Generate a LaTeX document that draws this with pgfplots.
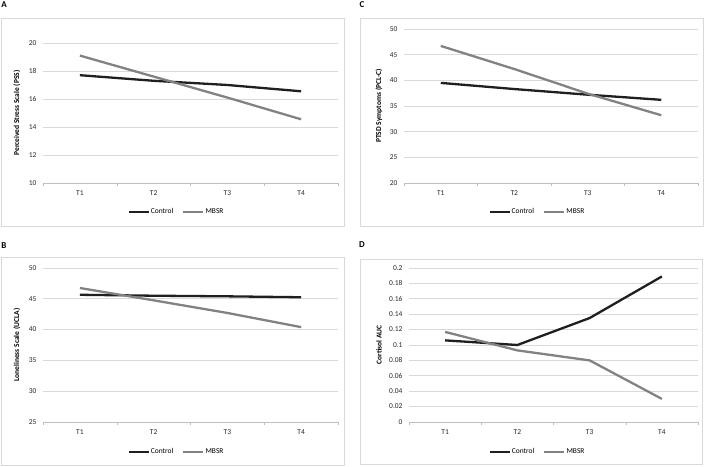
\documentclass[border=0pt]{standalone}
\usepackage{fontspec}
\setmainfont{Carlito}
\usepackage{pgfplots}
\pgfplotsset{compat=1.18}
\definecolor{ctrl}{HTML}{1F1F1F}
\definecolor{mbsr}{HTML}{828282}
\definecolor{gridc}{HTML}{D9D9D9}
\definecolor{axisc}{HTML}{BFBFBF}
\pgfplotsset{
  panel/.style={
    scale only axis,
    xmin=-0.5, xmax=3.5,
    xtick={0,1,2,3}, xticklabels={T1,T2,T3,T4},
    major tick length=0pt,
    extra x ticks={-0.5,0.5,1.5,2.5,3.5}, extra x tick labels={},
    extra x tick style={major tick length=3bp, tick align=outside, grid=none, tick style={axisc}},
    axis x line*=bottom, axis y line*=left,
    x axis line style={draw=axisc, line width=0.6bp, -},
    y axis line style={draw=none},
    ymajorgrids, grid style={gridc, line width=0.6bp},
    /pgf/number format/assume math mode=true,
    tick label style={font=\fontsize{7.5}{9}\selectfont, text=black!85},
    yticklabel shift=3bp, xticklabel shift=4bp,
    legend columns=2,
    legend style={draw=none, fill=none, anchor=center,
      font=\fontsize{7.5}{9}\selectfont,
      nodes={inner sep=1bp},
      /tikz/every even column/.append style={column sep=8bp}},
    legend image code/.code={\draw[#1] (0bp,0bp) -- (20bp,0bp);},
    clip=false,
  },
  labelx/.style={every axis y label/.style={at={([xshift=#1]axis description cs:0,0.5)},
      rotate=90, anchor=center, font=\bfseries\fontsize{7.5}{9}\selectfont}},
  ctrlline/.style={ctrl, line width=2.3bp, no markers},
  mbsrline/.style={mbsr, line width=2.3bp, no markers},
}
\begin{document}
\begin{tikzpicture}[x=1bp,y=1bp]
\useasboundingbox (0,0) rectangle (709,467);
% panel frames
\draw[gridc, line width=0.8bp] (1,241) rectangle (344,449);
\draw[gridc, line width=0.8bp] (360,241) rectangle (703,449);
\draw[gridc, line width=0.8bp] (1,2) rectangle (344,210);
\draw[gridc, line width=0.8bp] (360,3) rectangle (702,208);
\node[font=\bfseries\fontsize{9}{10}\selectfont] at (4,462) {A};
\node[font=\bfseries\fontsize{9}{10}\selectfont] at (362,462) {C};
\node[font=\bfseries\fontsize{9}{10}\selectfont] at (4,221) {B};
\node[font=\bfseries\fontsize{9}{10}\selectfont] at (362,222) {D};

% A
\begin{axis}[panel, at={(43bp,284bp)}, anchor=south west, width=295bp, height=140bp,
  ymin=10, ymax=20, ytick={10,12,...,20},
  labelx=-26bp, ylabel={Perceived Stress Scale (PSS)},
  legend style={at={(0.451,-0.207)}}]
\addplot[ctrlline] coordinates {(0,17.7) (1,17.3) (2,17.0) (3,16.55)};
\addplot[mbsrline] coordinates {(0,19.1) (1,17.6) (2,16.1) (3,14.55)};
\legend{Control,MBSR}
\end{axis}

% C
\begin{axis}[panel, at={(404bp,284bp)}, anchor=south west, width=294bp, height=154bp,
  ymin=20, ymax=50, ytick={20,25,...,50},
  labelx=-25bp, ylabel={PTSD Symptoms (PCL-C)},
  legend style={at={(0.452,-0.188)}}]
\addplot[ctrlline] coordinates {(0,39.5) (1,38.3) (2,37.2) (3,36.2)};
\addplot[mbsrline] coordinates {(0,46.7) (1,42.2) (2,37.4) (3,33.2)};
\legend{Control,MBSR}
\end{axis}

% B
\begin{axis}[panel, at={(43bp,45bp)}, anchor=south west, width=295bp, height=154bp,
  ymin=25, ymax=50, ytick={25,30,...,50},
  labelx=-26bp, ylabel={Loneliness Scale (UCLA)},
  legend style={at={(0.451,-0.195)}}]
\addplot[ctrlline] coordinates {(0,45.65) (1,45.5) (2,45.4) (3,45.25)};
\addplot[mbsrline] coordinates {(0,46.75) (1,44.75) (2,42.7) (3,40.4)};
\legend{Control,MBSR}
\end{axis}

% D
\begin{axis}[panel, at={(409bp,45bp)}, anchor=south west, width=289bp, height=154bp,
  ymin=0, ymax=0.2, ytick={0,0.02,0.04,0.06,0.08,0.1,0.12,0.14,0.16,0.18,0.2},
  yticklabels={0,0.02,0.04,0.06,0.08,0.1,0.12,0.14,0.16,0.18,0.2},
  labelx=-30bp, ylabel={Cortisol AUC},
  legend style={at={(0.443,-0.195)}}]
\addplot[ctrlline] coordinates {(0,0.106) (1,0.100) (2,0.135) (3,0.189)};
\addplot[mbsrline] coordinates {(0,0.117) (1,0.093) (2,0.080) (3,0.030)};
\legend{Control,MBSR}
\end{axis}
\end{tikzpicture}
\end{document}
